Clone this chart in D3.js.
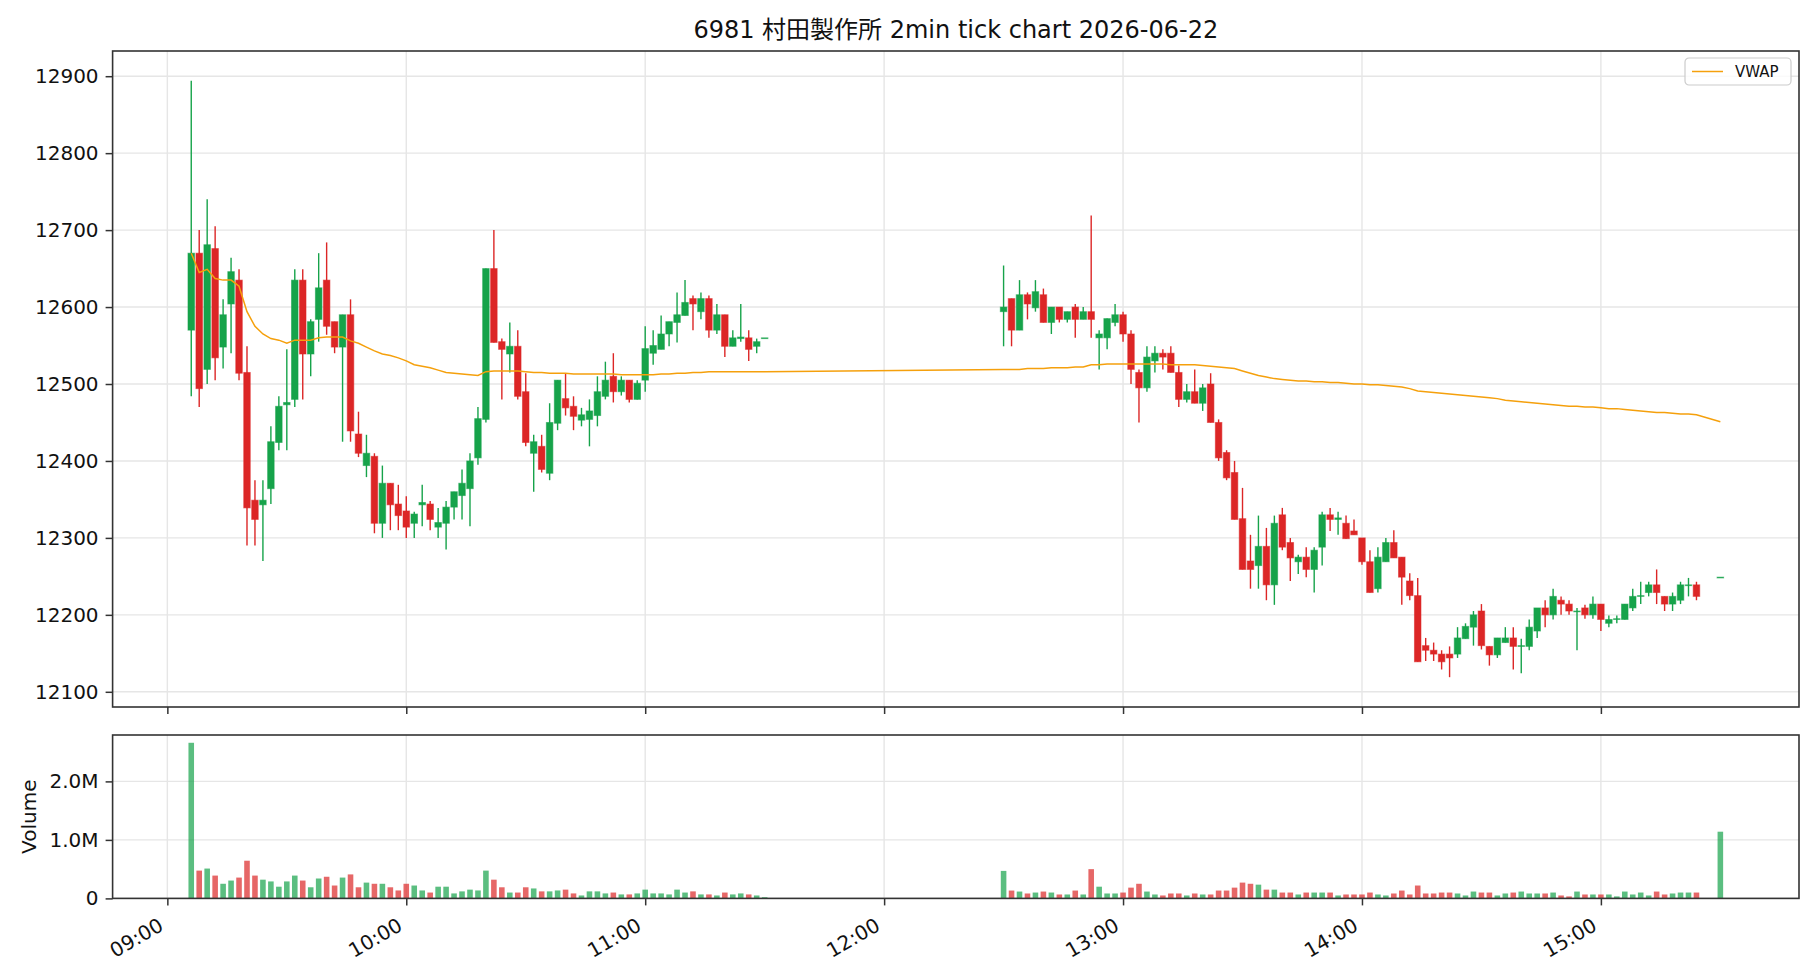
<!DOCTYPE html>
<html>
<head>
<meta charset="utf-8">
<script src="https://cdn.jsdelivr.net/npm/d3@7"></script>
<style>
  body { margin: 0; background: #fff; }
  svg text { font-family: "DejaVu Sans", "Noto Sans CJK JP", sans-serif; fill: #111; }
</style>
</head>
<body>
<div id="chart"></div>
<script>
// 2-minute bars: morning session 09:06-11:30, afternoon 12:30-15:24 plus the 15:30 close
const barTimes = [
  "09:06","09:08","09:10","09:12","09:14","09:16","09:18","09:20","09:22","09:24",
  "09:26","09:28","09:30","09:32","09:34","09:36","09:38","09:40","09:42","09:44",
  "09:46","09:48","09:50","09:52","09:54","09:56","09:58","10:00","10:02","10:04",
  "10:06","10:08","10:10","10:12","10:14","10:16","10:18","10:20","10:22","10:24",
  "10:26","10:28","10:30","10:32","10:34","10:36","10:38","10:40","10:42","10:44",
  "10:46","10:48","10:50","10:52","10:54","10:56","10:58","11:00","11:02","11:04",
  "11:06","11:08","11:10","11:12","11:14","11:16","11:18","11:20","11:22","11:24",
  "11:26","11:28","11:30",
  "12:30","12:32","12:34","12:36","12:38","12:40","12:42","12:44","12:46","12:48",
  "12:50","12:52","12:54","12:56","12:58","13:00","13:02","13:04","13:06","13:08",
  "13:10","13:12","13:14","13:16","13:18","13:20","13:22","13:24","13:26","13:28",
  "13:30","13:32","13:34","13:36","13:38","13:40","13:42","13:44","13:46","13:48",
  "13:50","13:52","13:54","13:56","13:58","14:00","14:02","14:04","14:06","14:08",
  "14:10","14:12","14:14","14:16","14:18","14:20","14:22","14:24","14:26","14:28",
  "14:30","14:32","14:34","14:36","14:38","14:40","14:42","14:44","14:46","14:48",
  "14:50","14:52","14:54","14:56","14:58","15:00","15:02","15:04","15:06","15:08",
  "15:10","15:12","15:14","15:16","15:18","15:20","15:22","15:24","15:30"
];

const opens = [
  12570,12670,12519,12676,12548,12604,12635,12515,12349,12343,
  12364,12424,12473,12480,12635,12539,12584,12635,12581,12548,
  12590,12435,12394,12406,12319,12371,12344,12335,12319,12343,
  12344,12314,12319,12340,12355,12364,12404,12454,12650,12555,
  12539,12549,12490,12410,12419,12384,12449,12481,12471,12453,
  12454,12459,12484,12510,12490,12505,12480,12505,12540,12545,
  12565,12580,12589,12611,12594,12611,12570,12590,12549,12559,
  12560,12549,12560,
  12594,12611,12570,12616,12599,12616,12580,12600,12584,12600,
  12584,12594,12560,12560,12580,12590,12565,12515,12495,12530,
  12540,12540,12515,12480,12490,12475,12500,12450,12411,12385,
  12325,12270,12264,12289,12239,12330,12294,12269,12275,12259,
  12288,12330,12324,12319,12309,12300,12269,12234,12269,12294,
  12275,12244,12225,12160,12154,12149,12149,12149,12169,12184,
  12205,12159,12148,12164,12170,12159,12159,12179,12209,12200,
  12219,12214,12204,12209,12200,12214,12189,12194,12194,12209,
  12224,12229,12239,12224,12214,12219,12238,12239,12249
];

const highs = [
  12894,12700,12740,12705,12610,12664,12649,12549,12375,12375,
  12445,12484,12545,12649,12649,12584,12670,12684,12581,12590,
  12610,12464,12434,12410,12394,12371,12369,12354,12334,12369,
  12348,12339,12348,12360,12389,12410,12470,12650,12700,12559,
  12580,12570,12514,12434,12434,12475,12505,12514,12484,12469,
  12480,12510,12529,12540,12510,12505,12505,12575,12570,12589,
  12581,12619,12635,12615,12619,12615,12604,12590,12570,12604,
  12570,12559,12560,
  12654,12611,12635,12619,12635,12624,12600,12600,12594,12604,
  12600,12719,12570,12585,12604,12594,12570,12519,12549,12549,
  12545,12549,12524,12500,12519,12500,12514,12454,12414,12400,
  12365,12304,12329,12313,12329,12339,12300,12278,12288,12288,
  12334,12339,12334,12329,12324,12300,12284,12288,12300,12310,
  12275,12254,12248,12170,12164,12154,12159,12184,12189,12205,
  12214,12159,12170,12184,12184,12169,12194,12209,12219,12234,
  12224,12219,12209,12213,12224,12214,12199,12199,12214,12234,
  12243,12243,12259,12224,12229,12243,12248,12243,12249
];

const lows = [
  12484,12470,12500,12505,12520,12540,12505,12290,12290,12270,
  12344,12414,12414,12470,12480,12510,12555,12564,12540,12425,
  12425,12405,12379,12306,12300,12310,12310,12300,12300,12315,
  12310,12300,12285,12324,12324,12315,12395,12450,12554,12480,
  12515,12480,12419,12360,12385,12375,12440,12459,12440,12445,
  12419,12445,12480,12476,12485,12476,12480,12490,12525,12545,
  12549,12554,12589,12570,12584,12560,12565,12535,12549,12555,
  12530,12540,12560,
  12549,12549,12570,12584,12594,12580,12565,12580,12580,12560,
  12584,12560,12519,12545,12575,12555,12500,12450,12490,12515,
  12519,12515,12470,12476,12475,12465,12450,12400,12375,12324,
  12259,12234,12234,12219,12213,12284,12244,12253,12249,12229,
  12264,12309,12304,12299,12304,12265,12229,12229,12269,12274,
  12213,12219,12139,12140,12140,12129,12119,12144,12169,12160,
  12155,12134,12144,12164,12129,12124,12154,12170,12184,12194,
  12200,12200,12154,12195,12195,12179,12184,12189,12194,12205,
  12214,12224,12214,12205,12205,12214,12224,12219,12249
];

const closes = [
  12670,12494,12681,12534,12590,12646,12514,12339,12324,12349,
  12425,12471,12476,12635,12539,12581,12625,12575,12548,12590,
  12439,12410,12410,12319,12371,12343,12329,12314,12331,12346,
  12324,12320,12340,12360,12371,12400,12455,12650,12554,12545,
  12549,12484,12424,12425,12389,12450,12505,12469,12458,12460,
  12465,12490,12505,12490,12505,12480,12501,12546,12550,12565,
  12581,12590,12606,12604,12611,12570,12590,12549,12560,12561,
  12545,12555,12560,
  12600,12570,12616,12604,12620,12580,12600,12584,12594,12584,
  12594,12584,12565,12585,12590,12565,12519,12495,12535,12540,
  12535,12515,12480,12490,12475,12495,12450,12404,12378,12324,
  12259,12259,12289,12239,12319,12288,12274,12275,12259,12284,
  12330,12324,12326,12299,12304,12269,12229,12275,12294,12274,
  12249,12225,12139,12154,12149,12139,12144,12170,12185,12200,
  12160,12148,12170,12170,12159,12160,12184,12209,12200,12224,
  12214,12205,12205,12200,12214,12194,12194,12195,12214,12224,
  12225,12239,12229,12214,12224,12239,12239,12224,12249
];

// volume in millions of shares
const volumesM = [
  2.66,0.475,0.51,0.39,0.25,0.305,0.356,0.644,0.39,0.32,
  0.29,0.20,0.29,0.39,0.305,0.19,0.34,0.37,0.22,0.356,
  0.41,0.19,0.27,0.25,0.25,0.19,0.136,0.25,0.22,0.136,
  0.10,0.20,0.20,0.085,0.12,0.15,0.136,0.475,0.32,0.19,
  0.10,0.10,0.19,0.17,0.12,0.12,0.136,0.15,0.085,0.05,
  0.12,0.12,0.085,0.10,0.068,0.068,0.085,0.15,0.085,0.085,
  0.068,0.15,0.10,0.12,0.068,0.068,0.05,0.10,0.068,0.085,
  0.068,0.05,0.02,
  0.47,0.134,0.117,0.084,0.10,0.117,0.10,0.067,0.067,0.134,
  0.067,0.50,0.20,0.084,0.084,0.10,0.184,0.25,0.117,0.067,
  0.05,0.084,0.084,0.05,0.084,0.067,0.067,0.134,0.134,0.184,
  0.27,0.25,0.235,0.15,0.15,0.10,0.10,0.067,0.10,0.10,
  0.10,0.10,0.05,0.067,0.067,0.067,0.10,0.067,0.05,0.084,
  0.134,0.067,0.22,0.084,0.084,0.10,0.10,0.084,0.05,0.117,
  0.10,0.10,0.05,0.084,0.10,0.117,0.084,0.084,0.084,0.10,
  0.05,0.034,0.117,0.067,0.067,0.067,0.067,0.034,0.117,0.067,
  0.10,0.05,0.117,0.067,0.084,0.10,0.10,0.10,1.14
];

const vwaps = [
  12670,12645,12649,12637,12635,12635,12627,12594,12575,12565,
  12559,12557,12553,12557,12557,12557,12560,12561,12561,12561,
  12556,12553,12548,12543,12539,12537,12534,12530,12525,12523,
  12521,12518,12515,12514,12513,12512,12511,12516,12517,12517,
  12517,12517,12516,12515,12515,12514,12514,12514,12513,12513,
  12513,12513,12513,12513,12512,12512,12512,12512,12512,12513,
  12513,12514,12514,12515,12515,12516,12516,12516,12516,12516,
  12516,12516,12516,
  12519,12519,12519,12520,12520,12520,12521,12521,12521,12522,
  12522,12525,12525,12526,12526,12526,12526,12526,12526,12526,
  12526,12525,12525,12525,12525,12524,12523,12522,12521,12520,
  12517,12514,12511,12509,12507,12506,12505,12504,12504,12503,
  12503,12502,12502,12501,12500,12500,12499,12499,12498,12497,
  12496,12494,12491,12490,12489,12488,12487,12486,12485,12484,
  12483,12482,12481,12479,12478,12477,12476,12475,12474,12473,
  12472,12471,12471,12470,12470,12469,12468,12468,12467,12466,
  12465,12464,12463,12463,12462,12461,12461,12460,12451
];

const priceTicks = [12100, 12200, 12300, 12400, 12500, 12600, 12700, 12800, 12900];
const volumeTicks = [0, 1e6, 2e6];
const hourTicks = ["09:00", "10:00", "11:00", "12:00", "13:00", "14:00", "15:00"];
const chartTitle = "6981 村田製作所 2min tick chart 2026-06-22";

const UP = "#16a34a";
const DOWN = "#dc2626";
const VWAP_COLOR = "#f5a00c";

function parseT(s) {
  const [h, m] = s.split(':').map(Number);
  return new Date(2026, 5, 22, h, m);
}

const bars = barTimes.map((t, i) => ({
  t: parseT(t),
  o: opens[i], h: highs[i], l: lows[i], c: closes[i],
  v: volumesM[i] * 1e6,
  vwap: vwaps[i],
}));

function renderChart(bars) {
  const width = 1820;
  const height = 980;
  const left = 112.6, right = 1799;
  const main = { top: 51, bottom: 707 };
  const vol = { top: 735, bottom: 898.4 };

  const svg = d3.select('#chart')
    .append('svg')
    .attr('width', width)
    .attr('height', height);

  // x: time, with matplotlib-like 5% margins around the bars
  const [t0, t1] = d3.extent(bars, (d) => d.t);
  const half = 0.5 * 60000;
  const pad = (t1 - t0 + 2 * half) * 0.05;
  const x = d3.scaleTime()
    .domain([new Date(+t0 - half - pad), new Date(+t1 + half + pad)])
    .range([left, right]);
  const step = x(new Date(+t0 + 120000)) - x(t0);

  const lo = d3.min(bars, (d) => d.l);
  const hi = d3.max(bars, (d) => d.h);
  const yPad = (hi - lo) * 0.05;
  const y = d3.scaleLinear()
    .domain([lo - yPad, hi + yPad])
    .range([main.bottom, main.top]);

  const yv = d3.scaleLinear()
    .domain([0, d3.max(bars, (d) => d.v) * 1.05])
    .range([vol.bottom, vol.top]);

  const hours = hourTicks.map(parseT);

  // gridlines
  function grid(g, yScale, yVals, top, bottom) {
    g.selectAll('line.h')
      .data(yVals)
      .join('line')
      .attr('x1', left).attr('x2', right)
      .attr('y1', (d) => yScale(d)).attr('y2', (d) => yScale(d));
    g.selectAll('line.v')
      .data(hours)
      .join('line')
      .attr('class', 'v')
      .attr('x1', (d) => x(d)).attr('x2', (d) => x(d))
      .attr('y1', top).attr('y2', bottom);
  }
  const gMainGrid = svg.append('g').attr('stroke', '#e6e6e6').attr('stroke-width', 1.4);
  grid(gMainGrid, y, priceTicks, main.top, main.bottom);
  const gVolGrid = svg.append('g').attr('stroke', '#e6e6e6').attr('stroke-width', 1.4);
  grid(gVolGrid, yv, volumeTicks, vol.top, vol.bottom);

  // candles
  const candles = svg.append('g').attr('class', 'candles');
  const bodyW = step * 0.82;
  const colorOf = (d) => (d.c >= d.o ? UP : DOWN);

  candles.selectAll('line')
    .data(bars)
    .join('line')
    .attr('x1', (d) => x(d.t)).attr('x2', (d) => x(d.t))
    .attr('y1', (d) => y(d.h)).attr('y2', (d) => y(d.l))
    .attr('stroke', colorOf)
    .attr('stroke-width', 1.4);

  candles.selectAll('rect')
    .data(bars)
    .join('rect')
    .attr('x', (d) => x(d.t) - bodyW / 2)
    .attr('width', bodyW)
    .attr('y', (d) => y(Math.max(d.o, d.c)))
    .attr('height', (d) => Math.max(Math.abs(y(d.o) - y(d.c)), 0.8))
    .attr('fill', colorOf)
    .attr('stroke', colorOf)
    .attr('stroke-opacity', 0.55)
    .attr('stroke-width', 1);

  // VWAP
  svg.append('path')
    .datum(bars)
    .attr('fill', 'none')
    .attr('stroke', VWAP_COLOR)
    .attr('stroke-width', 1.5)
    .attr('d', d3.line().x((d) => x(d.t)).y((d) => y(d.vwap)));

  // volume bars
  const volW = step * 0.7;
  svg.append('g')
    .selectAll('rect')
    .data(bars)
    .join('rect')
    .attr('x', (d) => x(d.t) - volW / 2)
    .attr('width', volW)
    .attr('y', (d) => yv(d.v))
    .attr('height', (d) => vol.bottom - yv(d.v))
    .attr('fill', colorOf)
    .attr('fill-opacity', 0.7);

  // axes
  const yAxis = d3.axisLeft(y).tickValues(priceTicks).tickSize(7).tickPadding(7).tickFormat(d3.format('d'));
  const gy = svg.append('g').attr('transform', `translate(${left},0)`).call(yAxis);

  const yvAxis = d3.axisLeft(yv).tickValues(volumeTicks).tickSize(7).tickPadding(7)
    .tickFormat((d) => (d === 0 ? '0' : (d / 1e6).toFixed(1) + 'M'));
  const gyv = svg.append('g').attr('transform', `translate(${left},0)`).call(yvAxis);

  const gx1 = svg.append('g').attr('transform', `translate(0,${main.bottom})`)
    .call(d3.axisBottom(x).tickValues(hours).tickSize(7).tickFormat(''));
  const gx2 = svg.append('g').attr('transform', `translate(0,${vol.bottom})`)
    .call(d3.axisBottom(x).tickValues(hours).tickSize(7).tickFormat(''));

  [gy, gyv, gx1, gx2].forEach((g) => {
    g.select('.domain').remove();
    g.selectAll('.tick line').attr('stroke', '#333').attr('stroke-width', 1.5);
    g.selectAll('text').attr('font-size', 20).attr('fill', '#111')
      .attr('font-family', '"DejaVu Sans", "Noto Sans CJK JP", sans-serif');
  });

  // rotated hour labels
  svg.append('g')
    .selectAll('text')
    .data(hours)
    .join('text')
    .attr('transform', (d) => `translate(${x(d) - 10},${vol.bottom + 18}) rotate(-30)`)
    .attr('text-anchor', 'end')
    .attr('dy', '0.75em')
    .attr('font-size', 20)
    .text(d3.timeFormat('%H:%M'));

  // frames
  [main, vol].forEach((a) => {
    svg.append('rect')
      .attr('x', left).attr('y', a.top)
      .attr('width', right - left).attr('height', a.bottom - a.top)
      .attr('fill', 'none')
      .attr('stroke', '#333')
      .attr('stroke-width', 1.6);
  });

  // title
  svg.append('text')
    .attr('x', (left + right) / 2)
    .attr('y', 38)
    .attr('text-anchor', 'middle')
    .attr('font-size', 24)
    .text(chartTitle);

  // y label of volume panel
  svg.append('text')
    .attr('transform', `translate(29,${(vol.top + vol.bottom) / 2}) rotate(-90)`)
    .attr('text-anchor', 'middle')
    .attr('dy', '0.35em')
    .attr('font-size', 20)
    .text('Volume');

  // legend
  const legend = svg.append('g').attr('transform', 'translate(1685,58)');
  legend.append('rect')
    .attr('width', 106).attr('height', 27).attr('rx', 4)
    .attr('fill', '#fff').attr('fill-opacity', 0.8)
    .attr('stroke', '#cccccc').attr('stroke-width', 1.2);
  legend.append('line')
    .attr('x1', 7).attr('x2', 38).attr('y1', 13.5).attr('y2', 13.5)
    .attr('stroke', VWAP_COLOR).attr('stroke-width', 1.5);
  legend.append('text')
    .attr('x', 50).attr('y', 13.5)
    .attr('dy', '0.35em')
    .attr('font-size', 15)
    .text('VWAP');
}

renderChart(bars);
</script>
</body>
</html>
